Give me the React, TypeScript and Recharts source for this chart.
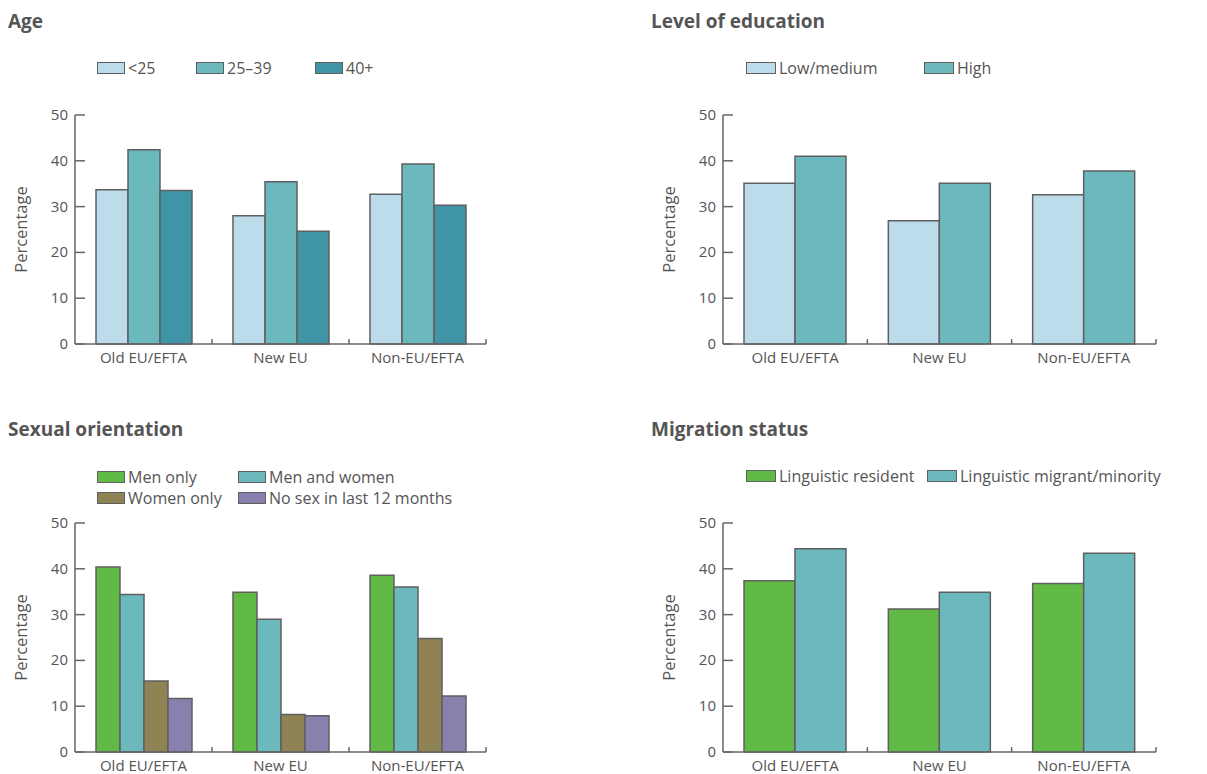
import { Bar, BarChart, Legend, XAxis, YAxis } from 'recharts'

const categories = ['Old EU/EFTA', 'New EU', 'Non-EU/EFTA']
const yTicks = [0, 10, 20, 30, 40, 50]

const ageUnder25 = [33.7, 28.0, 32.7]
const age25to39 = [42.4, 35.4, 39.3]
const age40plus = [33.5, 24.6, 30.3]

const eduLowMedium = [35.1, 26.9, 32.6]
const eduHigh = [41.0, 35.1, 37.8]

const menOnly = [40.4, 34.9, 38.6]
const menAndWomen = [34.4, 29.0, 36.0]
const womenOnly = [15.5, 8.2, 24.8]
const noSexLast12 = [11.7, 7.9, 12.2]

const lingResident = [37.4, 31.2, 36.8]
const lingMigrant = [44.4, 34.9, 43.4]

const FONT = '"Open Sans", sans-serif'
const TEXT = '#555'
const LINE = '#666'

interface Series {
  key: string
  name: string
  color: string
  values: number[]
}

interface PanelProps {
  title: string
  titleX: number
  left: number
  top: number
  width: number
  plotLeft: number
  plotRight: number
  barSize: number
  boxW: number
  series: Series[]
  legendPos: { x: number; y: number }[]
}

const PLOT_TOP = 115
const PLOT_BOTTOM = 344
const HEIGHT = 390
const YAXIS_W = 60
const XAXIS_H = 30

function Panel({ title, titleX, left, top, width, plotLeft, plotRight, barSize, boxW, series, legendPos }: PanelProps) {
  const data = categories.map((c, i) => {
    const row: Record<string, string | number> = { cat: c }
    series.forEach((s) => (row[s.key] = s.values[i]))
    return row
  })
  const band = (plotRight - plotLeft) / categories.length

  const YTick = ({ x, y, payload }: any) => (
    <g>
      <text x={x} y={y} dy={5} textAnchor="end" fontSize={15} fill={TEXT} fontFamily={FONT}>
        {payload.value}
      </text>
      <line x1={x + 7} x2={x + 17} y1={y} y2={y} stroke={LINE} strokeWidth={1.5} />
    </g>
  )

  const XTick = ({ x, y, payload }: any) => (
    <g>
      <text x={x} y={y} dy={19} textAnchor="middle" fontSize={15} fill={TEXT} fontFamily={FONT}>
        {payload.value}
      </text>
      <line x1={x + band / 2} x2={x + band / 2} y1={y} y2={y - 5} stroke={LINE} strokeWidth={1.5} />
    </g>
  )

  const YLabel = ({ viewBox }: any) => {
    const cx = viewBox.x + 5
    const cy = viewBox.y + viewBox.height / 2
    return (
      <text x={cx} y={cy} transform={`rotate(-90 ${cx} ${cy})`} textAnchor="middle" dominantBaseline="central" fontSize={16.5} fill={TEXT} fontFamily={FONT}>
        Percentage
      </text>
    )
  }

  const renderLegend = ({ payload }: any) => {
    const items = series
      .map((s) => (payload || []).find((p: any) => p.dataKey === s.key || p.value === s.name))
      .filter(Boolean)
    return (
      <div style={{ position: 'relative', width, height: 100 }}>
        {items.map((p: any, i: number) => (
          <div
            key={p.value}
            style={{
              position: 'absolute',
              left: legendPos[i].x,
              top: legendPos[i].y - 4,
              display: 'flex',
              alignItems: 'center',
              fontFamily: FONT,
              fontSize: 16,
              color: TEXT,
              whiteSpace: 'nowrap',
              lineHeight: '20px',
            }}
          >
            <span
              style={{
                display: 'inline-block',
                width: boxW,
                height: 10,
                background: p.color,
                border: '1.5px solid #5f5f5f',
                marginRight: 3,
              }}
            />
            {p.value}
          </div>
        ))}
      </div>
    )
  }

  return (
    <div style={{ position: 'absolute', left, top, width, height: HEIGHT }}>
      <div
        style={{
          position: 'absolute',
          left: titleX,
          top: 8,
          fontFamily: FONT,
          fontWeight: 700,
          fontSize: 19,
          color: TEXT,
          whiteSpace: 'nowrap',
        }}
      >
        {title}
      </div>
      <BarChart
        width={width}
        height={HEIGHT}
        data={data}
        barGap={0}
        margin={{
          top: PLOT_TOP,
          bottom: HEIGHT - PLOT_BOTTOM - XAXIS_H,
          left: plotLeft - YAXIS_W,
          right: width - plotRight,
        }}
      >
        <XAxis
          dataKey="cat"
          height={XAXIS_H}
          tickSize={0}
          tickMargin={0}
          tick={<XTick />}
          axisLine={{ stroke: LINE, strokeWidth: 1.5 }}
          tickLine={false}
          interval={0}
        />
        <YAxis
          domain={[0, 50]}
          ticks={yTicks}
          width={YAXIS_W}
          tickSize={0}
          tickMargin={7}
          tick={<YTick />}
          tickLine={false}
          axisLine={{ stroke: LINE, strokeWidth: 1.5 }}
          label={<YLabel />}
        />
        <Legend
          verticalAlign="middle"
          layout="horizontal"
          wrapperStyle={{ top: 0, left: 0, width, height: 100 }}
          content={renderLegend}
        />
        {series.map((s) => (
          <Bar
            key={s.key}
            dataKey={s.key}
            name={s.name}
            fill={s.color}
            stroke="#5f5f5f"
            strokeWidth={1.5}
            barSize={barSize}
            isAnimationActive={false}
          />
        ))}
      </BarChart>
    </div>
  )
}

export default function App() {
  return (
    <div style={{ position: 'absolute', left: 0, top: 0, width: 1207, height: 774, background: '#fff' }}>
      <Panel
        title="Age"
        titleX={8}
        left={0}
        top={0}
        width={600}
        plotLeft={75}
        plotRight={486}
        barSize={32}
        boxW={26}
        legendPos={[
          { x: 97, y: 62 },
          { x: 196, y: 62 },
          { x: 315, y: 62 },
        ]}
        series={[
          { key: 'u25', name: '<25', color: '#bcdcec', values: ageUnder25 },
          { key: 'a2539', name: '25–39', color: '#6bb9bc', values: age25to39 },
          { key: 'a40', name: '40+', color: '#3f95a5', values: age40plus },
        ]}
      />
      <Panel
        title="Level of education"
        titleX={11}
        left={640}
        top={0}
        width={567}
        plotLeft={83}
        plotRight={516}
        barSize={51}
        boxW={28}
        legendPos={[
          { x: 106, y: 62 },
          { x: 284, y: 62 },
        ]}
        series={[
          { key: 'low', name: 'Low/medium', color: '#bcdcec', values: eduLowMedium },
          { key: 'high', name: 'High', color: '#6bb9bc', values: eduHigh },
        ]}
      />
      <Panel
        title="Sexual orientation"
        titleX={8}
        left={0}
        top={408}
        width={600}
        plotLeft={75}
        plotRight={486}
        barSize={24}
        boxW={26}
        legendPos={[
          { x: 97, y: 63 },
          { x: 238, y: 63 },
          { x: 97, y: 84 },
          { x: 238, y: 84 },
        ]}
        series={[
          { key: 'men', name: 'Men only', color: '#62ba46', values: menOnly },
          { key: 'both', name: 'Men and women', color: '#6bb9bc', values: menAndWomen },
          { key: 'women', name: 'Women only', color: '#8f8356', values: womenOnly },
          { key: 'none', name: 'No sex in last 12 months', color: '#8a80ae', values: noSexLast12 },
        ]}
      />
      <Panel
        title="Migration status"
        titleX={11}
        left={640}
        top={408}
        width={567}
        plotLeft={83}
        plotRight={516}
        barSize={51}
        boxW={28}
        legendPos={[
          { x: 106, y: 62 },
          { x: 287, y: 62 },
        ]}
        series={[
          { key: 'res', name: 'Linguistic resident', color: '#62ba46', values: lingResident },
          { key: 'mig', name: 'Linguistic migrant/minority', color: '#6bb9bc', values: lingMigrant },
        ]}
      />
    </div>
  )
}
